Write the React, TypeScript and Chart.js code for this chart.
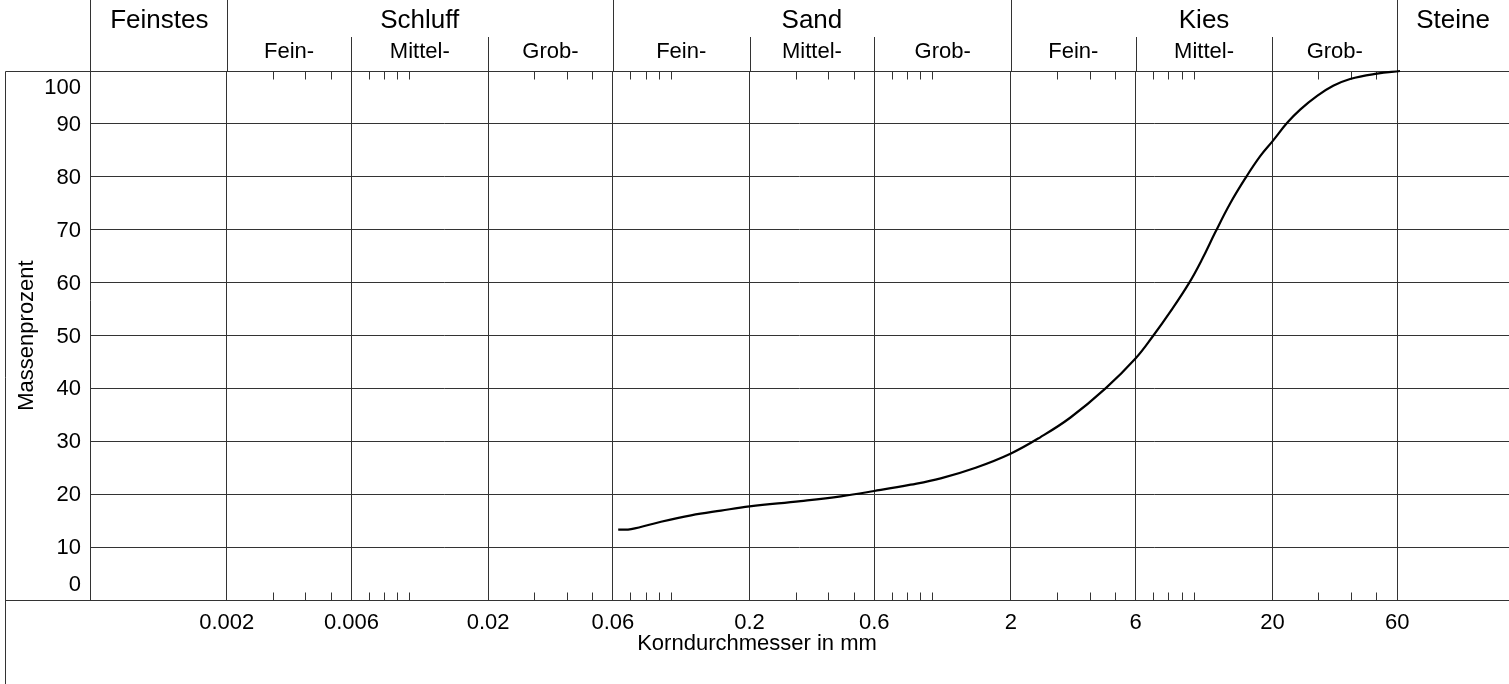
import React, { useEffect, useRef } from 'react';
import { Chart, registerables } from 'chart.js';

Chart.register(...registerables);

// ---- data ----
const grainSizes = [0.0629, 0.0705, 0.0917, 0.1195, 0.1555, 0.2, 0.314, 0.447, 0.6, 0.827, 1.077, 1.465, 2, 2.595, 3.378, 4.6, 6, 7.01, 8.14, 9.62, 10.79, 12.09, 13.8, 15.89, 17.96, 20, 22.78, 25.54, 29.66, 34.16, 39.65, 50.27, 61.54];
const passingPercent = [13.3, 13.4, 14.8, 16.0, 16.9, 17.7, 18.7, 19.6, 20.6, 21.8, 23.0, 25.0, 27.7, 30.8, 34.5, 40.0, 45.7, 50.0, 54.5, 60.0, 64.5, 69.5, 75.0, 80.0, 83.9, 86.7, 90.2, 92.7, 95.3, 97.2, 98.5, 99.5, 100];

const X_MIN = 0.00061;
const X_MAX = 160.7;

const majorTicks = [0.002, 0.006, 0.02, 0.06, 0.2, 0.6, 2, 6, 20, 60];
const majorTickLabels = ['0.002', '0.006', '0.02', '0.06', '0.2', '0.6', '2', '6', '20', '60'];
const minorTicks = [
  0.003, 0.004, 0.005, 0.007, 0.008, 0.009, 0.01,
  0.03, 0.04, 0.05, 0.07, 0.08, 0.09, 0.1,
  0.3, 0.4, 0.5, 0.7, 0.8, 0.9, 1,
  3, 4, 5, 7, 8, 9, 10,
  30, 40, 50,
];
const yTicks = [0, 10, 20, 30, 40, 50, 60, 70, 80, 90, 100];

const mainGroupLabels = ['Feinstes', 'Schluff', 'Sand', 'Kies', 'Steine'];
const mainGroupBounds = [X_MIN, 0.002, 0.06, 2, 60, X_MAX];
const subGroupLabels = ['Fein-', 'Mittel-', 'Grob-'];
const subGroupBounds = [
  [0.002, 0.006, 0.02, 0.06],
  [0.06, 0.2, 0.6, 2],
  [2, 6, 20, 60],
];

const xTitle = 'Korndurchmesser in mm';
const yTitle = 'Massenprozent';

const FONT = '"Liberation Sans", Arial, Helvetica, sans-serif';
const LINE = '#333';

const sievePlugin = {
  id: 'sieveFrame',
  beforeDatasetsDraw(chart: any) {
    const { ctx, chartArea: a, scales } = chart;
    const xs = scales.x;
    const ys = scales.y;
    const W = chart.width;
    const H = chart.height;
    const px = (v: number) => Math.round(xs.getPixelForValue(v)) + 0.5;
    const top = Math.round(a.top) + 0.5;
    const bottom = Math.round(a.bottom) + 0.5;
    const left = Math.round(a.left) + 0.5;
    const frameLeft = 5.5;
    const subTop = 37;

    ctx.save();
    ctx.strokeStyle = LINE;
    ctx.lineWidth = 1;
    const line = (x1: number, y1: number, x2: number, y2: number) => {
      ctx.beginPath();
      ctx.moveTo(x1, y1);
      ctx.lineTo(x2, y2);
      ctx.stroke();
    };
    line(frameLeft, top, W, top);
    line(frameLeft, bottom, W, bottom);
    line(frameLeft, top, frameLeft, H);
    line(left, 0, left, bottom);
    mainGroupBounds.slice(1, -1).forEach((v) => line(px(v), 0, px(v), top));
    subGroupBounds.forEach((b) => b.slice(1, -1).forEach((v) => line(px(v), subTop, px(v), top)));
    minorTicks.forEach((v) => {
      const p = px(v);
      line(p, top, p, top + 8);
      line(p, bottom, p, bottom - 8);
    });

    ctx.fillStyle = '#000';
    // header labels
    ctx.font = `26px ${FONT}`;
    ctx.textAlign = 'center';
    ctx.textBaseline = 'alphabetic';
    mainGroupLabels.forEach((lab, i) => {
      const c = (xs.getPixelForValue(mainGroupBounds[i]) + xs.getPixelForValue(mainGroupBounds[i + 1])) / 2;
      ctx.fillText(lab, c, 28);
    });
    ctx.font = `22px ${FONT}`;
    subGroupBounds.forEach((b) => {
      subGroupLabels.forEach((lab, i) => {
        const c = (xs.getPixelForValue(b[i]) + xs.getPixelForValue(b[i + 1])) / 2;
        ctx.fillText(lab, c, 58);
      });
    });

    // x tick labels
    ctx.font = `22px ${FONT}`;
    majorTicks.forEach((v, i) => {
      ctx.fillText(majorTickLabels[i], xs.getPixelForValue(v), 629);
    });
    ctx.fillText(xTitle, (5 + W) / 2, 650);

    // y tick labels
    ctx.textAlign = 'right';
    yTicks.forEach((v, i) => {
      const yy = ys.getPixelForValue(v);
      let base = yy + 7;
      if (i === 0) base = yy - 9;
      if (i === yTicks.length - 1) base = yy + 23;
      ctx.fillText(String(v), 81, base);
    });

    // y title
    ctx.save();
    ctx.translate(33, (a.top + a.bottom) / 2);
    ctx.rotate(-Math.PI / 2);
    ctx.textAlign = 'center';
    ctx.fillText(yTitle, 0, 0);
    ctx.restore();

    ctx.restore();
  },
};

export default function App() {
  const ref = useRef<HTMLCanvasElement | null>(null);
  useEffect(() => {
    if (!ref.current) return;
    const chart = new Chart(ref.current, {
      type: 'line',
      data: {
        datasets: [
          {
            data: grainSizes.map((d, i) => ({ x: d, y: passingPercent[i] })),
            borderColor: '#000',
            borderWidth: 2.2,
            pointRadius: 0,
            fill: false,
            tension: 0.4,
            clip: false as any,
          },
        ],
      },
      options: {
        animation: false,
        responsive: false,
        layout: { padding: { left: 90, top: 71, right: 0, bottom: 84 } },
        plugins: { legend: { display: false }, tooltip: { enabled: false } },
        scales: {
          x: {
            type: 'logarithmic',
            min: X_MIN,
            max: X_MAX,
            afterBuildTicks: (s: any) => {
              s.ticks = majorTicks.map((v) => ({ value: v }));
            },
            afterFit: (s: any) => {
              s.height = 0;
            },
            grid: { color: LINE, lineWidth: 1, drawTicks: false },
            border: { display: false },
            ticks: { display: false },
          },
          y: {
            type: 'linear',
            min: 0,
            max: 100,
            afterBuildTicks: (s: any) => {
              s.ticks = yTicks.map((v) => ({ value: v }));
            },
            afterFit: (s: any) => {
              s.width = 0;
            },
            grid: { color: LINE, lineWidth: 1, drawTicks: false },
            border: { display: false },
            ticks: { display: false },
          },
        },
      },
      plugins: [sievePlugin],
    } as any);
    return () => chart.destroy();
  }, []);
  return (
    <div style={{ position: 'absolute', left: 0, top: 0, width: 1509, height: 684, background: '#fff' }}>
      <canvas ref={ref} width={1509} height={684} style={{ width: 1509, height: 684, display: 'block' }} />
    </div>
  );
}
